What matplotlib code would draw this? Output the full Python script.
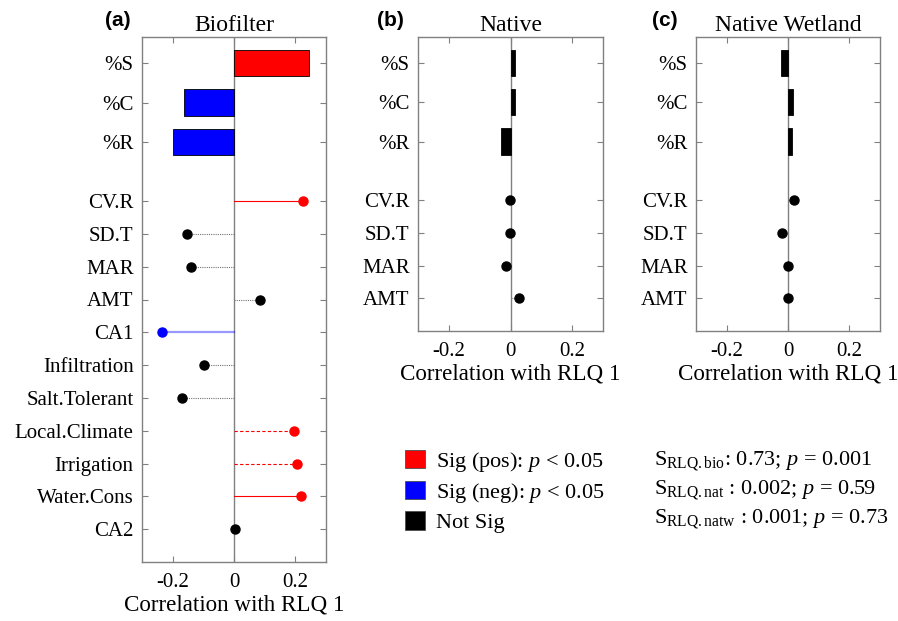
import matplotlib
matplotlib.use("Agg")
import matplotlib.pyplot as plt
from matplotlib.patches import Patch
import numpy as np

plt.rcParams['font.family'] = ['Liberation Serif', 'DejaVu Serif']
plt.rcParams['mathtext.fontset'] = 'custom'
plt.rcParams['mathtext.rm'] = 'Liberation Serif'
plt.rcParams['mathtext.it'] = 'Liberation Serif:italic'
plt.rcParams['mathtext.bf'] = 'Liberation Serif:bold'

# ---------------- data ----------------
trait_labels = ["%S", "%C", "%R"]
bio_trait_vals = [0.244, -0.162, -0.199]
bio_trait_sig = ["pos", "neg", "neg"]

bio_env_labels = ["CV.R", "SD.T", "MAR", "AMT", "CA1", "Infiltration", "Salt.Tolerant",
                  "Local.Climate", "Irrigation", "Water.Cons", "CA2"]
bio_env_vals = [0.226, -0.153, -0.141, 0.085, -0.236, -0.097, -0.170,
                0.196, 0.207, 0.220, 0.004]
bio_env_sig = ["pos", "ns", "ns", "ns", "neg", "ns", "ns", "pos_w", "pos_w", "pos", "ns"]

nat_env_labels = ["CV.R", "SD.T", "MAR", "AMT"]
nat_trait_vals = [0.015, 0.016, -0.032]
nat_env_vals = [-0.002, -0.003, -0.015, 0.027]
natw_trait_vals = [-0.023, 0.016, 0.014]
natw_env_vals = [0.020, -0.020, -0.001, -0.001]

xticks = [-0.2, 0, 0.2]
xtick_labels = ["-0.2", "0", "0.2"]
titles = ["Biofilter", "Native", "Native Wetland"]
panel_tags = ["(a)", "(b)", "(c)"]
xlabel = "Correlation with RLQ 1"
legend_labels = [r"Sig (pos): $p$ < 0.05", r"Sig (neg): $p$ < 0.05", "Not Sig"]
stats_lines = [r"S$_{\mathregular{RLQ{.}bio}}$: 0.73; $p$ = 0.001",
               r"S$_{\mathregular{RLQ{.}nat}}$ : 0.002; $p$ = 0.59",
               r"S$_{\mathregular{RLQ{.}natw}}$ : 0.001; $p$ = 0.73"]

# ---------------- styles ----------------
sig_color = {"pos": "#ff0000", "pos_w": "#ff0000", "neg": "#0000ff", "ns": "black"}
line_style = {
    "pos": dict(color="#ff0000", ls="-", lw=0.8),
    "pos_w": dict(color="#ff0000", ls=(0, (3, 2)), lw=0.8),
    "neg": dict(color="#0000ff", ls="-", lw=1.6, alpha=0.4),
    "ns": dict(color="0.45", ls=(0, (1, 1)), lw=0.8),
}
GRAY = "0.5"

W, H = 898, 621
fig = plt.figure(figsize=(W / 100, H / 100), dpi=100)

def px_axes(l, t, r, b):
    return fig.add_axes([l / W, 1 - b / H, (r - l) / W, (b - t) / H])

ax_a = px_axes(142, 37, 326, 562)
ax_b = px_axes(418, 37, 603, 331)
ax_c = px_axes(696, 37, 880, 331)

def draw_panel(ax, t_vals, t_sig, e_labels, e_vals, e_sig):
    n = len(e_labels)
    e_pos = np.arange(n, 0, -1).astype(float)        # top item highest
    t_pos = n + np.array([4.2, 3.0, 1.8])
    ax.axvline(0, color=GRAY, lw=1.0, zorder=1)
    for y, v, s in zip(t_pos, t_vals, t_sig):
        ax.barh(y, v, height=0.8, color=sig_color[s], edgecolor="black", lw=0.6, zorder=2)
    for y, v, s in zip(e_pos, e_vals, e_sig):
        ax.plot([0, v], [y, y], zorder=2, **line_style[s])
        ax.plot(v, y, "o", color=sig_color[s], ms=6.5, zorder=3)
    ax.set_xlim(-0.3, 0.3)
    ax.set_ylim(0, n + 5)
    ax.set_yticks(list(t_pos) + list(e_pos))
    ax.set_yticklabels(trait_labels + list(e_labels), fontsize=15)
    ax.set_xticks(xticks)
    ax.set_xticklabels(xtick_labels, fontsize=15)
    ax.tick_params(direction="in", top=True, right=True, color=GRAY, length=4, width=0.8)
    ax.tick_params(axis="x", pad=8)
    ax.tick_params(axis="y", pad=6)
    for sp in ax.spines.values():
        sp.set_color(GRAY)
        sp.set_linewidth(1.0)
    ax.set_xlabel(xlabel, fontsize=16.6, labelpad=2)

draw_panel(ax_a, bio_trait_vals, bio_trait_sig, bio_env_labels, bio_env_vals, bio_env_sig)
draw_panel(ax_b, nat_trait_vals, ["ns"] * 3, nat_env_labels, nat_env_vals, ["ns"] * 4)
draw_panel(ax_c, natw_trait_vals, ["ns"] * 3, nat_env_labels, natw_env_vals, ["ns"] * 4)

for ax, t in zip([ax_a, ax_b, ax_c], titles):
    ax.set_title(t, fontsize=17, pad=4)

tag_x = [118, 390, 665]
for tx, tag in zip(tag_x, panel_tags):
    fig.text(tx / W, 1 - 21 / H, tag, fontsize=15, fontweight="bold",
             family="Liberation Sans", ha="center", va="center")

handles = [Patch(facecolor=c, edgecolor="0.3", lw=0.6) for c in ["#ff0000", "#0000ff", "black"]]
fig.legend(handles, legend_labels, loc="upper left", bbox_to_anchor=(396 / W, 1 - 441 / H),
           frameon=False, fontsize=16, handlelength=0.9, handleheight=0.9,
           handletextpad=0.5, labelspacing=0.3, borderaxespad=0)

for i, s in enumerate(stats_lines):
    fig.text(654 / W, 1 - (461 + 29 * i) / H, s, fontsize=16, ha="left", va="center")

fig.savefig("out.png", dpi=100)
